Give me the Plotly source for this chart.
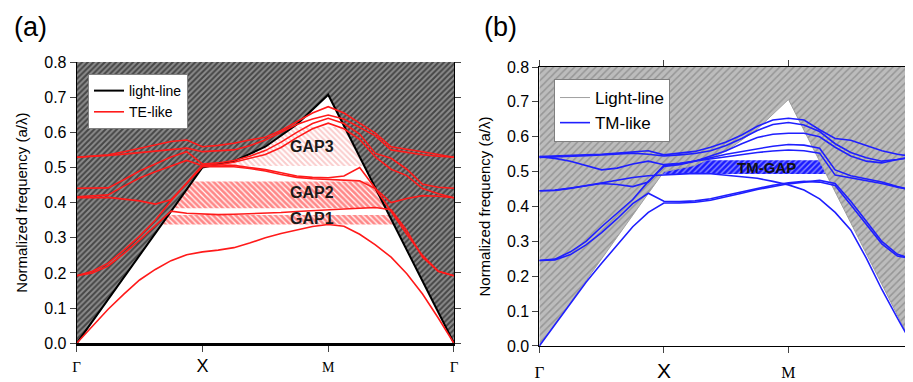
import numpy as np
import plotly.graph_objects as go

# ---------------- data ----------------
K = [0.0, 0.125, 0.25, 0.375, 0.5, 0.625, 0.75, 0.875, 1.0, 1.125, 1.25, 1.375, 1.5,
     1.625, 1.75, 1.875, 2.0, 2.125, 2.25, 2.375, 2.5, 2.625, 2.75, 2.875, 3.0]
K_TICKS = [0, 1, 2, 3]
K_LABELS = ["Γ", "X", "M", "Γ"]

LL_K = [0.0, 1.0, 1.25, 1.5, 1.75, 2.0, 3.0]
LL_F = [0.0, 0.5, 0.518, 0.559, 0.622, 0.707, 0.0]
F_MAX = 0.8

TE1 = [0, 0.05, 0.097, 0.14, 0.18, 0.21, 0.235, 0.252, 0.26, 0.265, 0.272, 0.285, 0.30, 0.312, 0.323, 0.332, 0.338, 0.333, 0.31, 0.28, 0.245, 0.198, 0.14, 0.072, 0]
TE2 = [0.192, 0.2, 0.22, 0.255, 0.293, 0.335, 0.376, 0.37, 0.367, 0.366, 0.367, 0.368, 0.37, 0.372, 0.375, 0.378, 0.38, 0.382, 0.384, 0.386, 0.38, 0.32, 0.245, 0.205, 0.192]
TE3 = [0.192, 0.205, 0.228, 0.265, 0.305, 0.35, 0.405, 0.455, 0.507, 0.507, 0.506, 0.50, 0.494, 0.485, 0.476, 0.472, 0.471, 0.476, 0.50, 0.44, 0.375, 0.31, 0.25, 0.205, 0.192]
TE4 = [0.414, 0.415, 0.415, 0.41, 0.405, 0.396, 0.408, 0.455, 0.502, 0.503, 0.502, 0.497, 0.49, 0.48, 0.472, 0.468, 0.466, 0.465, 0.462, 0.44, 0.40, 0.412, 0.42, 0.418, 0.414]
TE5 = [0.417, 0.419, 0.422, 0.447, 0.47, 0.488, 0.503, 0.52, 0.505, 0.508, 0.515, 0.525, 0.537, 0.557, 0.585, 0.61, 0.626, 0.61, 0.58, 0.53, 0.495, 0.477, 0.44, 0.425, 0.414]
TE6 = [0.441, 0.441, 0.442, 0.465, 0.49, 0.51, 0.53, 0.545, 0.51, 0.513, 0.52, 0.532, 0.548, 0.572, 0.60, 0.625, 0.64, 0.625, 0.595, 0.54, 0.526, 0.495, 0.452, 0.444, 0.441]
TE7 = [0.529, 0.531, 0.534, 0.538, 0.542, 0.547, 0.551, 0.555, 0.545, 0.547, 0.55, 0.562, 0.578, 0.6, 0.622, 0.638, 0.649, 0.638, 0.615, 0.59, 0.55, 0.543, 0.536, 0.532, 0.529]
TE8 = [0.529, 0.532, 0.536, 0.545, 0.555, 0.566, 0.574, 0.578, 0.559, 0.563, 0.569, 0.578, 0.586, 0.605, 0.63, 0.655, 0.673, 0.655, 0.626, 0.598, 0.559, 0.553, 0.545, 0.537, 0.529]
TE_BANDS = [TE1, TE2, TE3, TE4, TE5, TE6, TE7, TE8]

TM1 = [0, 0.062, 0.124, 0.183, 0.237, 0.29, 0.342, 0.383, 0.41, 0.41, 0.412, 0.418, 0.427, 0.438, 0.449, 0.458, 0.465, 0.47, 0.475, 0.466, 0.415, 0.358, 0.30, 0.263, 0.249]
TM2 = [0.245, 0.247, 0.262, 0.29, 0.325, 0.365, 0.408, 0.438, 0.415, 0.414, 0.416, 0.422, 0.432, 0.442, 0.452, 0.461, 0.468, 0.472, 0.47, 0.46, 0.405, 0.348, 0.293, 0.258, 0.249]
TM3 = [0.245, 0.249, 0.27, 0.3, 0.342, 0.38, 0.42, 0.472, 0.515, 0.52, 0.53, 0.545, 0.56, 0.58, 0.598, 0.607, 0.61, 0.61, 0.6, 0.57, 0.545, 0.53, 0.525, 0.535, 0.543]
TM4 = [0.445, 0.446, 0.452, 0.46, 0.468, 0.476, 0.483, 0.488, 0.49, 0.492, 0.495, 0.494, 0.49, 0.486, 0.481, 0.472, 0.462, 0.447, 0.422, 0.383, 0.333, 0.252, 0.162, 0.08, 0]
TM5 = [0.445, 0.447, 0.453, 0.46, 0.466, 0.463, 0.457, 0.47, 0.518, 0.522, 0.53, 0.54, 0.55, 0.558, 0.566, 0.573, 0.578, 0.576, 0.567, 0.505, 0.488, 0.48, 0.47, 0.457, 0.447]
TM6 = [0.543, 0.538, 0.53, 0.518, 0.505, 0.51, 0.522, 0.53, 0.52, 0.524, 0.53, 0.536, 0.543, 0.55, 0.555, 0.559, 0.562, 0.56, 0.553, 0.49, 0.482, 0.476, 0.466, 0.455, 0.447]
TM7 = [0.541, 0.542, 0.544, 0.546, 0.548, 0.55, 0.553, 0.55, 0.545, 0.548, 0.552, 0.56, 0.575, 0.595, 0.618, 0.635, 0.641, 0.634, 0.615, 0.58, 0.555, 0.54, 0.53, 0.535, 0.541]
TM8 = [0.543, 0.544, 0.546, 0.548, 0.55, 0.553, 0.556, 0.56, 0.548, 0.552, 0.558, 0.57, 0.585, 0.605, 0.63, 0.648, 0.653, 0.648, 0.62, 0.595, 0.59, 0.575, 0.56, 0.55, 0.543]
TM_BANDS = [TM1, TM2, TM3, TM4, TM5, TM6, TM7, TM8]

TE_GAP_NAMES = ["GAP1", "GAP2", "GAP3"]
TE_GAP_LO = [0.338, 0.384, 0.504]
TE_GAP_HI = [0.365, 0.460, 0.616]
TE_GAP_FG = ["#ff1010", "#ff0f0f", "#f59a9a"]
TE_GAP_SOLID = [0.7, 0.7, 0.5]
TE_GAP_LABEL_K = [1.87, 1.87, 1.87]
TE_GAP_LABEL_F = [0.354, 0.429, 0.559]

TM_GAP_LO = [0.493]
TM_GAP_HI = [0.533]
TM_GAP_LABEL_K = [1.82]
TM_GAP_LABEL_F = [0.512]

RED = "#ff1a1a"
BLUE = "#1f1fff"
SANS = "Liberation Sans, Arial, sans-serif"
SERIF = "Liberation Serif, Times New Roman, serif"

# page body has an 8px margin: the figure is sized to fit inside the window
W, H = 905, 374


def strip_polygon(lo, hi):
    """Horizontal strip [lo, hi] clipped to the region below the light line."""
    i_m = int(np.argmax(LL_F))
    rk, rf = np.array(LL_K[:i_m + 1]), np.array(LL_F[:i_m + 1])
    fk, ff = np.array(LL_K[i_m:])[::-1], np.array(LL_F[i_m:])[::-1]
    left_f = [lo] + [f for f in rf if lo < f < hi] + [hi]
    left_k = list(np.interp(left_f, rf, rk))
    right_f = [hi] + [f for f in ff[::-1] if lo < f < hi] + [lo]
    right_k = list(np.interp(right_f, ff, fk))
    return left_k + right_k, left_f + right_f


fig = go.Figure()

# ---------- panel (a) ----------
fig.add_trace(go.Scatter(
    x=LL_K + [K_TICKS[-1], K_TICKS[0]], y=LL_F + [F_MAX, F_MAX],
    mode="none", fill="toself", xaxis="x", yaxis="y", showlegend=False, hoverinfo="skip",
    fillpattern=dict(shape="/", bgcolor="#8c8c8c", fgcolor="#000000", size=4, solidity=0.5)))

for lo, hi, fg, sol in zip(TE_GAP_LO, TE_GAP_HI, TE_GAP_FG, TE_GAP_SOLID):
    px, py = strip_polygon(lo, hi)
    fig.add_trace(go.Scatter(
        x=px, y=py, mode="none", fill="toself", xaxis="x", yaxis="y",
        showlegend=False, hoverinfo="skip",
        fillpattern=dict(shape="\\", bgcolor="white", fgcolor=fg, size=4, solidity=sol)))

fig.add_trace(go.Scatter(x=LL_K, y=LL_F, mode="lines", name="light-line",
                         line=dict(color="black", width=2), xaxis="x", yaxis="y",
                         legend="legend"))
for i, band in enumerate(TE_BANDS):
    fig.add_trace(go.Scatter(x=K, y=band, mode="lines", name="TE-like",
                             line=dict(color=RED, width=1.6), xaxis="x", yaxis="y",
                             showlegend=(i == 0), legend="legend"))

# ---------- panel (b) ----------
fig.add_trace(go.Scatter(
    x=LL_K + [K_TICKS[-1], K_TICKS[0]], y=LL_F + [F_MAX, F_MAX],
    mode="none", fill="toself", xaxis="x2", yaxis="y2", showlegend=False, hoverinfo="skip",
    fillpattern=dict(shape="/", bgcolor="#bcbcbc", fgcolor="#707070", size=5, solidity=0.3)))

for lo, hi in zip(TM_GAP_LO, TM_GAP_HI):
    px, py = strip_polygon(lo, hi)
    fig.add_trace(go.Scatter(
        x=px, y=py, mode="none", fill="toself", xaxis="x2", yaxis="y2",
        showlegend=False, hoverinfo="skip",
        fillpattern=dict(shape="/", bgcolor="#1a1aff", fgcolor="white", size=4, solidity=0.35)))

fig.add_trace(go.Scatter(x=LL_K, y=LL_F, mode="lines", name="Light-line",
                         line=dict(color="#a0a0a0", width=1), xaxis="x2", yaxis="y2",
                         legend="legend2"))
for i, band in enumerate(TM_BANDS):
    fig.add_trace(go.Scatter(x=K, y=band, mode="lines", name="TM-like",
                             line=dict(color=BLUE, width=1.6), xaxis="x2", yaxis="y2",
                             showlegend=(i == 0), legend="legend2"))


def tick_text(sizes):
    out = []
    for lab, (fam, sz) in zip(K_LABELS, sizes):
        out.append('<span style="font-family:%s;font-size:%dpx">%s</span>' % (fam, sz, lab))
    return out


ta = tick_text([(SERIF, 15), (SANS, 18), (SERIF, 14), (SERIF, 15)])
tb = tick_text([(SERIF, 17), (SANS, 21), (SERIF, 16), (SERIF, 17)])

common_y = dict(range=[0, F_MAX], dtick=0.1, tickformat=".1f", ticks="outside", ticklen=6,
                showline=True, linecolor="black", linewidth=1, mirror="ticks",
                showgrid=False, zeroline=False, automargin=False,
                tickfont=dict(size=16, color="black"),
                title=dict(text="Normalized frequency (a/λ)", font=dict(size=15, color="black"),
                           standoff=12))

fig.update_layout(
    width=W, height=H, margin=dict(l=0, r=0, t=0, b=0, autoexpand=False),
    paper_bgcolor="white", plot_bgcolor="white",
    font=dict(family=SANS, color="black"),
    xaxis=dict(domain=[0.0759, 0.4928], range=[0, 3], tickvals=K_TICKS, ticktext=ta,
               ticks="outside", ticklen=6, showline=True, linecolor="black", linewidth=2.5,
               mirror=False, showgrid=False, zeroline=False, anchor="y", automargin=False,
               tickfont=dict(size=15, color="black"), ticklabelstandoff=2,
               ticklabeloverflow="allow"),
    xaxis3=dict(overlaying="x", side="top", range=[0, 3], tickvals=K_TICKS[1:3],
                ticks="outside", ticklen=4, showline=True, linecolor="black", linewidth=1,
                showticklabels=False, showgrid=False, zeroline=False, anchor="y",
                automargin=False),
    yaxis=dict(domain=[0.1035, 0.8556], anchor="x", **common_y),
    xaxis2=dict(domain=[0.5871, 1.0], range=[0, 3], tickvals=K_TICKS, ticktext=tb,
                ticks="outside", ticklen=6, showline=True, linecolor="black", linewidth=1,
                mirror="ticks", showgrid=False, zeroline=False, anchor="y2", automargin=False,
                tickfont=dict(size=17, color="black"), ticklabelstandoff=5,
                ticklabeloverflow="allow"),
    yaxis2=dict(domain=[0.0963, 0.8422], anchor="x2", **common_y),
    legend=dict(x=0.0884, y=0.8235, xanchor="left", yanchor="top", bgcolor="white",
                bordercolor="#808080", borderwidth=1, font=dict(size=14),
                tracegroupgap=0, itemwidth=30),
    legend2=dict(x=0.6033, y=0.8102, xanchor="left", yanchor="top", bgcolor="white",
                 bordercolor="#808080", borderwidth=1, font=dict(size=17),
                 tracegroupgap=0, itemwidth=30),
)

ann = [
    dict(text="(a)", x=0.0044, y=0.948, xref="paper", yref="paper", xanchor="left",
         yanchor="middle", showarrow=False, font=dict(size=27)),
    dict(text="(b)", x=0.5238, y=0.948, xref="paper", yref="paper", xanchor="left",
         yanchor="middle", showarrow=False, font=dict(size=27)),
]
for name, k, f in zip(TE_GAP_NAMES, TE_GAP_LABEL_K, TE_GAP_LABEL_F):
    ann.append(dict(text="<b>%s</b>" % name, x=k, y=f, xref="x", yref="y", showarrow=False,
                    font=dict(size=16, color="#1a1a1a")))
for k, f in zip(TM_GAP_LABEL_K, TM_GAP_LABEL_F):
    ann.append(dict(text="<b>TM-GAP</b>", x=k, y=f, xref="x2", yref="y2", showarrow=False,
                    font=dict(size=15, color="#111111")))
fig.update_layout(annotations=ann)

fig.write_html("out.html")
